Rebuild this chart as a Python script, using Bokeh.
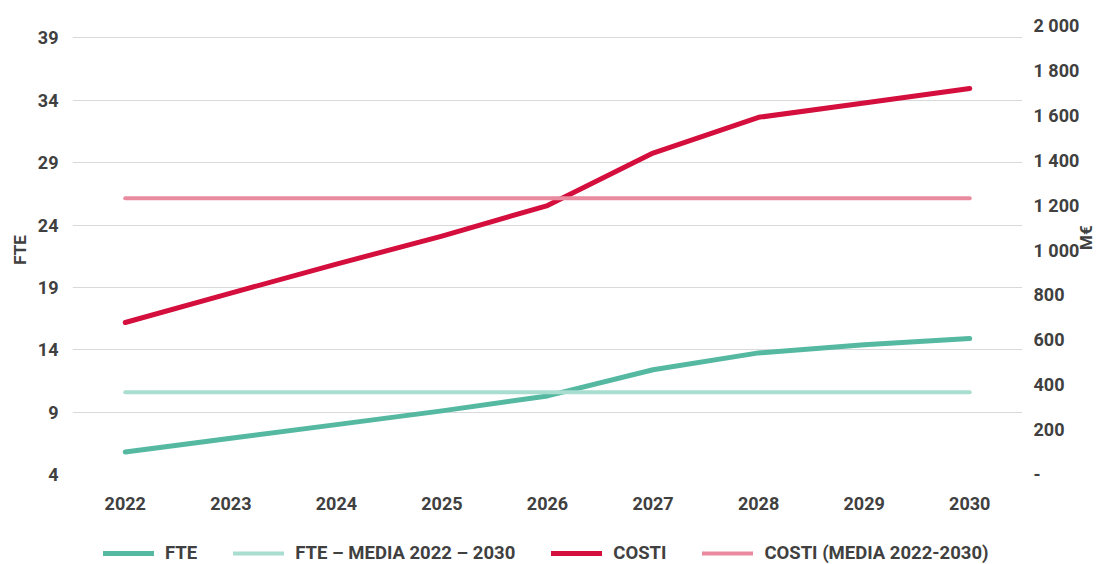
import math
from bokeh.plotting import figure
from bokeh.layouts import column
from bokeh.models import (Range1d, LinearAxis, FixedTicker, CustomJSTickFormatter,
                          Legend, LegendItem, FactorRange)
from bokeh.embed import file_html
from bokeh.resources import INLINE

# ---- data ----
years = ["2022", "2023", "2024", "2025", "2026", "2027", "2028", "2029", "2030"]
fte = [5.8, 6.9, 8.0, 9.1, 10.3, 12.4, 13.75, 14.4, 14.9]
fte_media = [10.6, 10.6, 10.6, 10.6, 10.6, 10.6, 10.6, 10.6, 10.6]
costi = [677, 808, 937, 1062, 1198, 1432, 1591, 1655, 1719]
costi_media = [1231, 1231, 1231, 1231, 1231, 1231, 1231, 1231, 1231]
left_ticks = [4, 9, 14, 19, 24, 29, 34, 39]
right_ticks = [0, 200, 400, 600, 800, 1000, 1200, 1400, 1600, 1800, 2000]
legend_labels = ["FTE", "FTE \u2013 MEDIA 2022 \u2013 2030", "COSTI", "COSTI (MEDIA 2022-2030)"]

FONT = "Roboto"
TXT = "#404040"
C_FTE = "#55b9a1"
C_FTE_M = "#a9ddd0"
C_COSTI = "#d40f3d"
C_COSTI_M = "#e98a9e"

p = figure(width=1110, height=534, x_range=FactorRange(*years), y_range=Range1d(4, 40),
           output_backend="svg", toolbar_location=None,
           min_border_left=72, min_border_right=88, min_border_top=25, min_border_bottom=60)
p.extra_y_ranges = {"costi": Range1d(0, 2000)}
p.outline_line_color = None
p.xgrid.grid_line_color = None
p.ygrid.grid_line_color = "#d9d9d9"
p.ygrid.grid_line_width = 1


def style_axis(ax, size="18px"):
    ax.axis_line_color = None
    ax.major_tick_line_color = None
    ax.minor_tick_line_color = None
    ax.major_tick_out = 0
    ax.major_tick_in = 0
    ax.minor_tick_out = 0
    ax.minor_tick_in = 0
    ax.major_label_text_font = FONT
    ax.major_label_text_font_style = "bold"
    ax.major_label_text_font_size = size
    ax.major_label_text_color = TXT
    ax.axis_label_text_font = FONT
    ax.axis_label_text_font_style = "bold"
    ax.axis_label_text_font_size = "17px"
    ax.axis_label_text_color = TXT


# left axis
ya = p.yaxis[0]
ya.ticker = FixedTicker(ticks=left_ticks)
ya.axis_label = "FTE"
style_axis(ya)
ya.major_label_standoff = 14
ya.axis_label_standoff = 5

# right axis
ra = LinearAxis(y_range_name="costi", ticker=FixedTicker(ticks=right_ticks),
                formatter=CustomJSTickFormatter(code="""
                    if (tick == 0) { return "-"; }
                    return tick.toFixed(0).replace(/\\B(?=(\\d{3})+(?!\\d))/g, " ");
                """))
ra.axis_label = "M\u20ac"
style_axis(ra)
ra.major_label_standoff = 11
ra.axis_label_standoff = 4
ra.axis_label_orientation = math.pi / 2
p.add_layout(ra, "right")

# x axis
xa = p.xaxis[0]
style_axis(xa)
xa.major_label_standoff = 22

line_specs = [(fte, C_FTE, 5, "default"), (fte_media, C_FTE_M, 4, "default"),
              (costi, C_COSTI, 5, "costi"), (costi_media, C_COSTI_M, 4, "costi")]
for vals, col, lw, rng in line_specs:
    p.line(years, vals, line_color=col, line_width=lw, line_cap="round", line_join="round",
           y_range_name=rng)

# ---- legend strip under the chart (same series, kept outside its visible range) ----
q = figure(width=1110, height=30, x_range=FactorRange(*years), y_range=Range1d(5000, 5001),
           output_backend="svg", toolbar_location=None, x_axis_type=None, y_axis_type=None,
           min_border_left=0, min_border_right=0, min_border_top=0, min_border_bottom=0)
q.outline_line_color = None
q.grid.visible = False
leg_renderers = []
for vals, col, lw, rng in line_specs:
    leg_renderers.append(q.line(years, vals, line_color=col, line_width=lw, line_cap="round"))

legend = Legend(items=[LegendItem(label=lab, renderers=[r])
                       for lab, r in zip(legend_labels, leg_renderers)],
                orientation="horizontal", location=(31, 0),
                glyph_width=51, glyph_height=20, label_height=20, label_standoff=11,
                spacing=36, padding=0, margin=0,
                border_line_color=None, background_fill_alpha=0,
                label_text_font=FONT, label_text_font_style="bold",
                label_text_font_size="18.5px", label_text_color=TXT)
q.add_layout(legend, "center")

open("out.html", "w").write(file_html(column(p, q, spacing=0), INLINE))
